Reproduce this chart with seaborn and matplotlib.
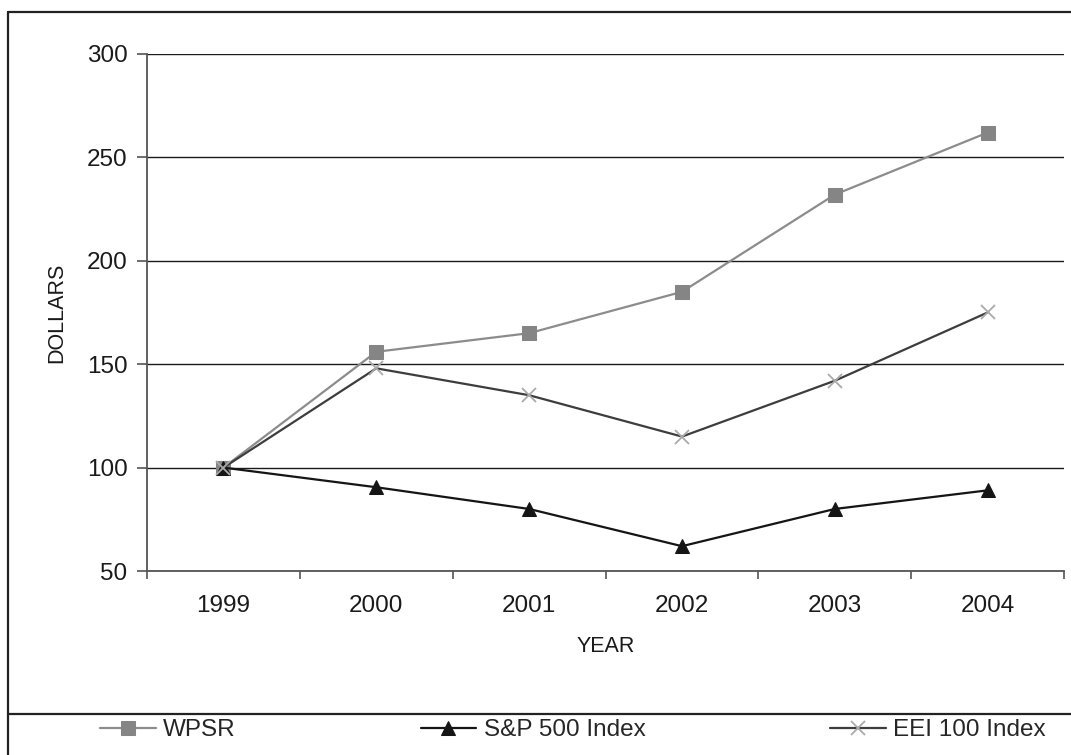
import matplotlib
matplotlib.use('Agg')
import matplotlib.pyplot as plt
from matplotlib.lines import Line2D
from matplotlib.ticker import FixedLocator
import seaborn as sns
import pandas as pd

# values
years = ['1999', '2000', '2001', '2002', '2003', '2004']
wpsr = [100, 156, 165, 185, 232, 262]
sp500 = [100, 90.5, 80, 62, 80, 89]
eei = [100, 148, 135, 115, 142, 175]
y_ticks = [50, 100, 150, 200, 250, 300]

df = pd.DataFrame({'year': years, 'WPSR': wpsr, 'S&P 500 Index': sp500, 'EEI 100 Index': eei})

sns.set_style('white')
plt.rcParams['font.family'] = ['Liberation Sans', 'DejaVu Sans']

fig = plt.figure(figsize=(10.71, 7.55), dpi=100)
ax = fig.add_axes([0.1373, 0.2437, 0.9935 - 0.1373, 0.9285 - 0.2437])

sns.lineplot(data=df, x='year', y='WPSR', ax=ax, color='#8c8c8c', lw=1.6,
             marker='s', markersize=10, markerfacecolor='#858585',
             markeredgecolor='#858585', label='WPSR', legend=False, zorder=3)
sns.lineplot(data=df, x='year', y='S&P 500 Index', ax=ax, color='#151515', lw=1.6,
             marker='^', markersize=10.5, markerfacecolor='#151515',
             markeredgecolor='#151515', label='S&P 500 Index', legend=False, zorder=4)
sns.lineplot(data=df, x='year', y='EEI 100 Index', ax=ax, color='#3d3d3d', lw=1.6,
             marker='x', markersize=10, markeredgewidth=1.3,
             markeredgecolor='#aaaaaa', label='EEI 100 Index', legend=False, zorder=5)

ax.set_xlim(-0.5, len(years) - 0.5)
ax.set_ylim(y_ticks[0], y_ticks[-1])
ax.set_yticks(y_ticks)
ax.yaxis.grid(True, color='#1a1a1a', lw=1.0)
ax.xaxis.grid(False)

# labels centred on categories, tick marks on the boundaries
ax.xaxis.set_minor_locator(FixedLocator([i - 0.5 for i in range(len(years) + 1)]))
ax.tick_params(axis='x', which='major', length=0, pad=17, labelsize=17.5, colors='#1a1a1a')
ax.tick_params(axis='x', which='minor', length=6, width=1.2, color='#555555', bottom=True)
ax.tick_params(axis='y', length=7, width=1.2, color='#555555', pad=7,
               labelsize=17.5, labelcolor='#1a1a1a', left=True)

for side in ['top', 'right']:
    ax.spines[side].set_visible(False)
for side in ['left', 'bottom']:
    ax.spines[side].set_color('#555555')
    ax.spines[side].set_linewidth(1.3)

ax.set_xlabel('YEAR', fontsize=15.5, labelpad=14, color='#1a1a1a')
ax.set_ylabel('DOLLARS', fontsize=15.5, labelpad=14, color='#1a1a1a')

# outer frame and legend separator
fx = 8 / 1071
fig.add_artist(Line2D([fx, fx], [-0.01, 1 - 12 / 755], transform=fig.transFigure,
                      color='#222222', lw=1.6))
fig.add_artist(Line2D([fx, 1.01], [1 - 12 / 755, 1 - 12 / 755], transform=fig.transFigure,
                      color='#222222', lw=1.6))
fig.add_artist(Line2D([fx, 1.01], [1 - 714 / 755, 1 - 714 / 755], transform=fig.transFigure,
                      color='#222222', lw=1.6))

handles, labels = ax.get_legend_handles_labels()
fig.legend(handles, labels, ncol=3, loc='center left', bbox_to_anchor=(100 / 1071, 1 - 730 / 755),
           frameon=False, fontsize=17.5, handlelength=2.3, handletextpad=0.3,
           columnspacing=7.6, borderpad=0, borderaxespad=0)

fig.savefig('out.png', dpi=100)
